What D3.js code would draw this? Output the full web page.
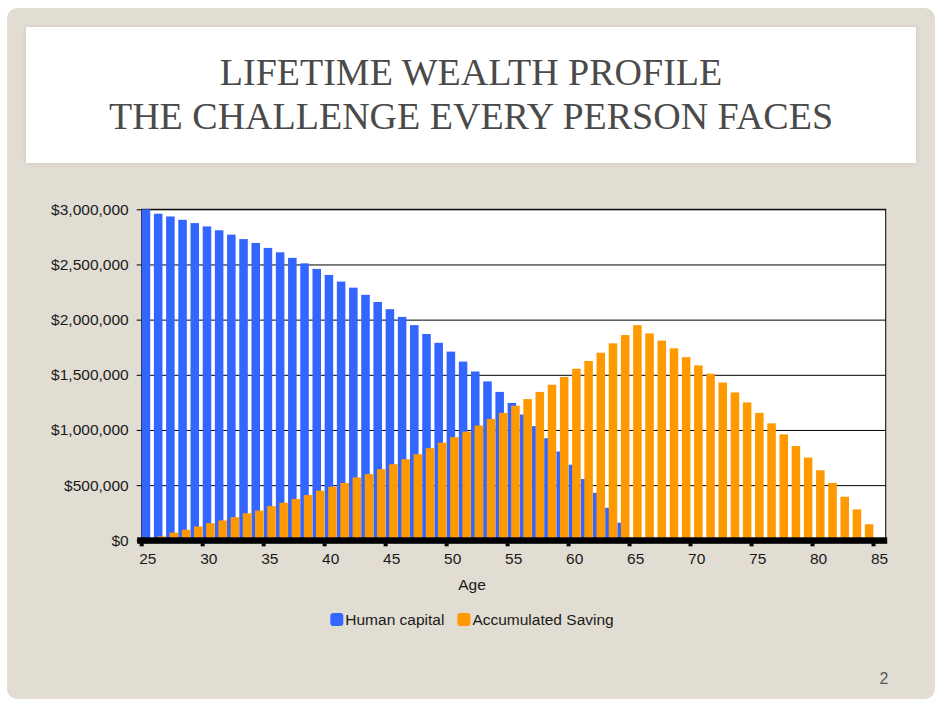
<!DOCTYPE html>
<html>
<head>
<meta charset="utf-8">
<script src="https://cdn.jsdelivr.net/npm/d3@7"></script>
<style>
  body { margin: 0; background: #fff; }
  .chart text { font-family: "Liberation Sans", Arial, sans-serif; }
</style>
</head>
<body>
<svg class="chart"></svg>
<script>
// ages on the x axis (one bar pair per year)
var ages = [25, 26, 27, 28, 29, 30, 31, 32, 33, 34, 35, 36, 37, 38, 39, 40,
    41, 42, 43, 44, 45, 46, 47, 48, 49, 50, 51, 52, 53, 54, 55, 56, 57, 58,
    59, 60, 61, 62, 63, 64, 65, 66, 67, 68, 69, 70, 71, 72, 73, 74, 75, 76,
    77, 78, 79, 80, 81, 82, 83, 84, 85];

var humanCapital = [3000000, 2960000, 2935000, 2905000, 2875000, 2845000,
    2810000, 2770000, 2730000, 2695000, 2650000, 2610000, 2560000, 2510000,
    2460000, 2405000, 2345000, 2290000, 2225000, 2160000, 2095000, 2025000,
    1950000, 1870000, 1790000, 1710000, 1620000, 1530000, 1440000, 1345000,
    1245000, 1140000, 1035000, 925000, 805000, 685000, 555000, 430000,
    295000, 160000, 0, 0, 0, 0, 0, 0, 0, 0, 0, 0, 0, 0, 0, 0, 0, 0, 0, 0,
    0, 0, 0];

var accumulatedSaving = [0, 35000, 70000, 95000, 125000, 155000, 180000,
    210000, 245000, 270000, 310000, 340000, 375000, 410000, 450000, 485000,
    520000, 570000, 600000, 645000, 690000, 735000, 780000, 835000, 885000,
    935000, 985000, 1040000, 1100000, 1155000, 1220000, 1280000, 1345000,
    1410000, 1480000, 1555000, 1625000, 1700000, 1785000, 1860000, 1950000,
    1875000, 1810000, 1740000, 1660000, 1585000, 1510000, 1430000, 1340000,
    1250000, 1155000, 1060000, 960000, 855000, 750000, 635000, 520000,
    395000, 280000, 145000, 0];

var seriesNames = ["Human capital", "Accumulated Saving"];
var seriesColors = ["#3366ff", "#ff9900"];

var yTicks = [0, 500000, 1000000, 1500000, 2000000, 2500000, 3000000];
var xTicks = [25, 30, 35, 40, 45, 50, 55, 60, 65, 70, 75, 80, 85];

var titleLines = ["LIFETIME WEALTH PROFILE", "THE CHALLENGE EVERY PERSON FACES"];
var xTitle = "Age";
var pageNumber = "2";

function show() {
    'use strict';

    var W = 941, H = 704;
    var plot = { left: 141.7, right: 885.7, top: 209.3, bottom: 540.3 };
    var fs = "15.5px";

    var svg = d3.select(".chart")
        .attr("width", W)
        .attr("height", H);

    var defs = svg.append("defs");
    var f = defs.append("filter").attr("id", "glow")
        .attr("x", "-5%").attr("y", "-10%").attr("width", "110%").attr("height", "120%");
    f.append("feDropShadow").attr("dx", 0).attr("dy", 0)
        .attr("stdDeviation", 2).attr("flood-color", "#b8b2a4").attr("flood-opacity", 0.6);

    // slide background
    svg.append("rect")
        .attr("x", 7).attr("y", 8).attr("width", 928).attr("height", 691)
        .attr("rx", 10)
        .attr("fill", "#e1ddd3");

    // title box
    svg.append("rect")
        .attr("x", 26).attr("y", 27).attr("width", 890).attr("height", 136)
        .attr("fill", "#fff")
        .attr("filter", "url(#glow)");

    svg.append("g").selectAll("text").data(titleLines)
        .enter().append("text")
        .attr("x", 471)
        .attr("y", function(d, i) { return 84.5 + i * 44; })
        .attr("text-anchor", "middle")
        .style("font-family", "'Liberation Serif', 'Times New Roman', serif")
        .style("font-size", "38px")
        .attr("fill", "#4a4a4a")
        .text(function(d) { return d; });

    var x = d3.scaleBand()
        .domain(ages)
        .range([plot.left, plot.right])
        .padding(0);

    var y = d3.scaleLinear()
        .domain([0, 3000000])
        .range([plot.bottom, plot.top]);

    var bw = x.bandwidth();
    var barW = bw * 0.7;

    // plot area
    svg.append("rect")
        .attr("x", plot.left).attr("y", plot.top)
        .attr("width", plot.right - plot.left)
        .attr("height", plot.bottom - plot.top)
        .attr("fill", "#fff")
        .attr("stroke", "#000")
        .attr("stroke-width", 1);

    // y axis with gridlines
    var yAxis = svg.append("g")
        .attr("transform", "translate(" + plot.left + ",0)")
        .call(d3.axisLeft(y)
            .tickValues(yTicks)
            .tickFormat(d3.format("$,"))
            .tickSize(-(plot.right - plot.left))
            .tickPadding(13));
    yAxis.select(".domain").remove();
    yAxis.selectAll(".tick line")
        .attr("x1", -5)
        .attr("stroke", "#000");
    yAxis.selectAll(".tick text")
        .style("font-size", fs)
        .attr("fill", "#1a1a1a");

    var data = ages.map(function(a, i) {
        return { age: a, hc: humanCapital[i], sav: accumulatedSaving[i] };
    });

    // human capital bars (behind)
    svg.append("g").selectAll("rect").data(data)
        .enter().append("rect")
        .attr("x", function(d) { return x(d.age); })
        .attr("y", function(d) { return y(d.hc); })
        .attr("width", barW)
        .attr("height", function(d) { return y(0) - y(d.hc); })
        .attr("fill", seriesColors[0]);

    // accumulated saving bars (in front, shifted right)
    svg.append("g").selectAll("rect").data(data)
        .enter().append("rect")
        .attr("x", function(d) { return x(d.age) + bw * 0.29; })
        .attr("y", function(d) { return y(d.sav); })
        .attr("width", barW)
        .attr("height", function(d) { return y(0) - y(d.sav); })
        .attr("fill", seriesColors[1]);

    // thick x axis line
    svg.append("rect")
        .attr("x", plot.left - 4.5).attr("y", plot.bottom - 3)
        .attr("width", plot.right - plot.left + 6).attr("height", 6.5)
        .attr("fill", "#000");

    svg.append("g").selectAll("rect").data(xTicks)
        .enter().append("rect")
        .attr("x", function(d) { return x(d) - 2; })
        .attr("y", plot.bottom + 3)
        .attr("width", 4).attr("height", 3)
        .attr("fill", "#000");

    var xAxis = svg.append("g")
        .attr("transform", "translate(0," + plot.bottom + ")")
        .call(d3.axisBottom(x)
            .tickValues(xTicks)
            .tickSize(0)
            .tickPadding(13));
    xAxis.select(".domain").remove();
    xAxis.selectAll(".tick text")
        .style("font-size", fs)
        .attr("fill", "#1a1a1a");

    svg.append("text")
        .attr("x", 472).attr("y", 590)
        .attr("text-anchor", "middle")
        .style("font-size", fs)
        .attr("fill", "#1a1a1a")
        .text(xTitle);

    // legend, centred on the slide
    var legend = svg.append("g");
    var items = legend.selectAll("g").data(seriesNames)
        .enter().append("g");
    items.append("rect")
        .attr("width", 13).attr("height", 13)
        .attr("y", 613).attr("rx", 3)
        .attr("fill", function(d, i) { return seriesColors[i]; });
    items.append("text")
        .attr("x", 15).attr("y", 625)
        .style("font-size", fs)
        .attr("fill", "#1a1a1a")
        .text(function(d) { return d; });

    var widths = [];
    items.select("text").each(function() { widths.push(15 + this.getComputedTextLength()); });
    var gap = 13;
    var total = d3.sum(widths) + gap * (widths.length - 1);
    var cx = 472 - total / 2;
    items.attr("transform", function(d, i) {
        var off = cx + d3.sum(widths.slice(0, i)) + gap * i;
        return "translate(" + off + ",0)";
    });

    svg.append("text")
        .attr("x", 884).attr("y", 684)
        .attr("text-anchor", "middle")
        .style("font-size", "16px")
        .attr("fill", "#595959")
        .text(pageNumber);
}

show();
</script>
</body>
</html>
